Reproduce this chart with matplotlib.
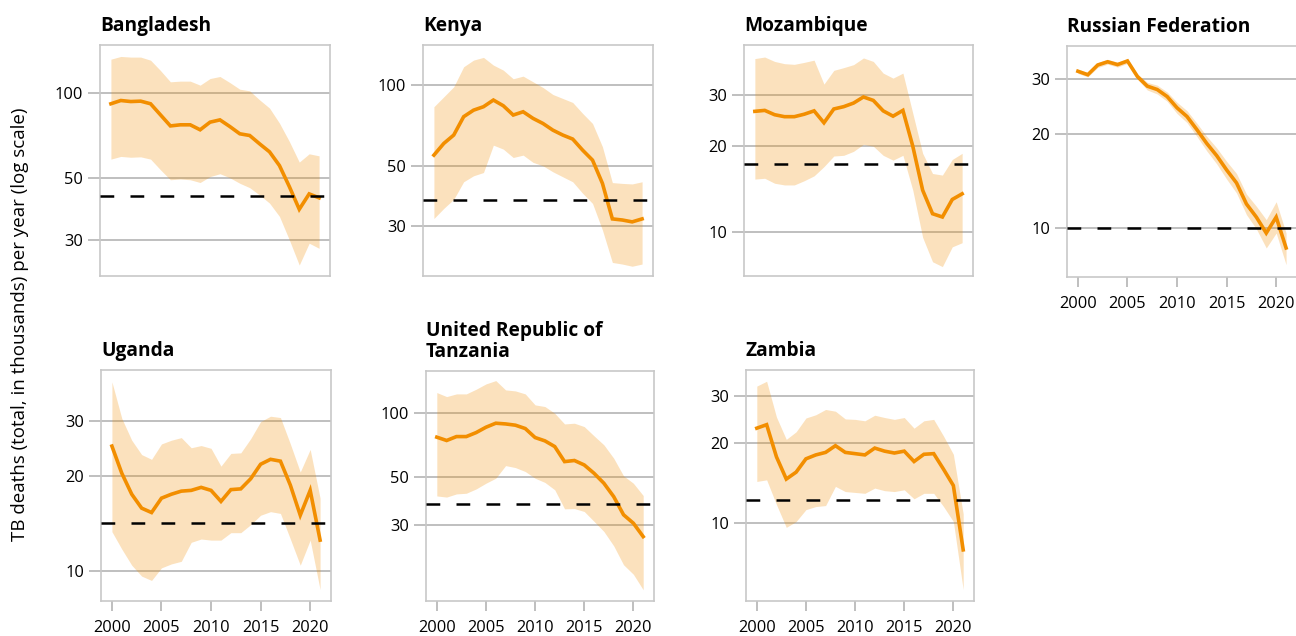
import matplotlib.pyplot as plt
import matplotlib.ticker as mticker
import numpy as np

years = list(range(2000, 2022))

bgd_mid = [91.9, 94.4, 93.6, 93.9, 91.9, 83.9, 76.6, 77.3, 77.3, 74.2, 79.0, 80.5,
           76.2, 71.8, 70.8, 66.1, 61.9, 55.3, 46.5, 38.6, 43.8, 42.4]
bgd_hi = [132.6, 135.6, 134.9, 134.9, 131.5, 120.8, 110.1, 110.7, 110.7, 107.1, 113.1, 115.0,
          109.4, 103.6, 102.2, 94.9, 88.7, 78.4, 67.4, 56.9, 60.9, 59.9]
bgd_lo = [58.3, 59.6, 59.2, 59.4, 58.3, 53.4, 49.2, 49.5, 49.2, 48.1, 50.5, 51.7,
          50.0, 47.8, 46.1, 43.4, 40.6, 36.4, 30.0, 24.4, 29.2, 28.0]

ken_mid = [54.9, 60.7, 65.2, 76.3, 80.7, 83.1, 88.0, 83.8, 77.4, 79.6, 75.2, 72.0,
           68.0, 65.2, 63.0, 57.3, 52.6, 43.1, 31.8, 31.5, 31.0, 31.8]
ken_hi = [83.1, 90.5, 98.6, 117.0, 123.9, 126.8, 118.7, 113.7, 105.6, 108.0, 102.9, 98.0,
          92.3, 89.2, 86.2, 78.5, 72.0, 59.0, 43.4, 43.1, 42.9, 43.7]
ken_lo = [31.9, 34.8, 37.6, 43.7, 46.0, 47.3, 59.8, 57.8, 53.8, 54.9, 51.6, 50.1,
          47.6, 45.6, 43.7, 39.6, 36.3, 28.9, 21.9, 21.6, 21.2, 21.6]

moz_mid = [26.3, 26.5, 25.6, 25.2, 25.2, 25.7, 26.4, 24.0, 26.8, 27.3, 28.1, 29.5,
           28.7, 26.4, 25.3, 26.5, 19.9, 14.0, 11.6, 11.3, 13.0, 13.6]
moz_hi = [40.1, 40.6, 39.2, 38.5, 38.3, 38.9, 39.6, 32.7, 36.5, 37.3, 38.2, 40.3,
          39.2, 35.7, 34.3, 35.7, 25.9, 18.8, 16.0, 15.8, 17.9, 18.8]
moz_lo = [15.3, 15.4, 14.8, 14.6, 14.6, 15.1, 15.7, 16.9, 18.4, 18.5, 19.1, 20.2,
          19.9, 18.5, 17.8, 18.5, 14.0, 9.6, 7.9, 7.6, 8.9, 9.2]

rus_mid = [31.7, 30.9, 33.2, 34.0, 33.3, 34.2, 30.5, 28.4, 27.7, 26.3, 24.2, 22.7,
           20.6, 18.6, 17.0, 15.3, 13.9, 11.9, 10.8, 9.6, 10.8, 8.6]
rus_hi = [32.2, 31.4, 33.8, 34.6, 33.9, 34.8, 31.1, 29.2, 28.6, 27.2, 25.2, 23.7,
          21.6, 19.6, 18.0, 16.3, 14.9, 12.8, 11.7, 10.6, 12.1, 9.6]
rus_lo = [31.2, 30.4, 32.6, 33.4, 32.7, 33.6, 29.9, 27.6, 26.8, 25.4, 23.2, 21.7,
          19.6, 17.6, 16.0, 14.3, 12.9, 11.0, 9.9, 8.6, 9.6, 7.6]

uga_mid = [24.9, 20.4, 17.5, 15.8, 15.3, 17.0, 17.5, 17.9, 18.0, 18.4, 18.0, 16.6,
           18.1, 18.2, 19.6, 21.8, 22.6, 22.3, 18.7, 15.0, 18.0, 12.5]
uga_hi = [39.9, 30.5, 26.0, 23.4, 22.6, 25.3, 26.0, 26.5, 24.6, 25.0, 24.5, 21.5,
          23.6, 23.7, 26.3, 29.8, 31.0, 30.7, 25.3, 20.6, 24.3, 17.0]
uga_lo = [13.3, 11.7, 10.4, 9.6, 9.3, 10.2, 10.5, 10.7, 12.3, 12.6, 12.5, 12.5,
          13.2, 13.2, 14.0, 15.0, 15.4, 15.2, 12.6, 10.4, 12.5, 8.7]

tza_mid = [77.0, 74.3, 77.5, 77.5, 80.9, 85.7, 89.5, 88.8, 87.6, 84.5, 76.7, 74.0,
           69.6, 59.2, 59.9, 57.1, 52.2, 46.9, 40.6, 33.4, 30.5, 26.4]
tza_hi = [124.5, 119.2, 122.7, 122.7, 129.0, 136.6, 141.6, 128.1, 126.7, 122.7, 109.0, 107.1,
          99.6, 88.8, 89.5, 86.3, 78.1, 70.9, 61.4, 50.8, 46.9, 41.1]
tza_lo = [40.9, 40.4, 41.8, 42.1, 44.1, 46.9, 49.5, 56.7, 55.5, 53.2, 49.5, 47.3,
          43.7, 35.6, 35.7, 34.6, 31.1, 27.9, 23.9, 19.5, 17.6, 14.9]

zmb_mid = [22.7, 23.4, 17.7, 14.6, 15.5, 17.4, 18.0, 18.4, 19.5, 18.4, 18.2, 18.0,
           19.1, 18.6, 18.3, 18.6, 17.0, 18.1, 18.2, 15.9, 13.8, 7.9]
zmb_hi = [32.7, 34.1, 25.0, 20.6, 22.0, 24.8, 25.5, 26.7, 26.3, 24.6, 24.5, 24.2,
          25.4, 24.9, 24.5, 24.9, 22.7, 24.2, 24.5, 21.2, 18.1, 10.8]
zmb_lo = [14.3, 14.5, 11.7, 9.6, 10.1, 11.2, 11.5, 11.6, 13.7, 13.1, 13.0, 12.9,
          13.5, 13.2, 13.1, 13.3, 12.3, 12.9, 12.9, 11.5, 10.1, 5.6]

countries = ["Bangladesh", "Kenya", "Mozambique", "Russian Federation",
             "Uganda", "United Republic of\nTanzania", "Zambia"]
mids = [bgd_mid, ken_mid, moz_mid, rus_mid, uga_mid, tza_mid, zmb_mid]
his = [bgd_hi, ken_hi, moz_hi, rus_hi, uga_hi, tza_hi, zmb_hi]
los = [bgd_lo, ken_lo, moz_lo, rus_lo, uga_lo, tza_lo, zmb_lo]
targets = [42.9, 37.3, 17.2, 10.0, 14.2, 37.7, 12.2]
y_limits = [(22.3, 149), (19.5, 141), (7.05, 44.7), (6.94, 38.2),
            (8.0, 43.5), (13.2, 157), (5.07, 37.6)]
y_ticks = [[30, 50, 100], [30, 50, 100], [10, 20, 30], [10, 20, 30],
           [10, 20, 30], [30, 50, 100], [10, 20, 30]]

# panel boxes in pixels: left, top, right, bottom
boxes = [(100, 45, 330, 276), (423, 45, 653, 276), (744, 45, 973, 276),
         (1067, 46, 1297, 277), (101, 370, 331, 601), (426, 371, 654, 601),
         (746, 370, 974, 601)]
show_x = [False, False, False, True, True, True, True]

W, H = 1296, 636
orange = "#f28e00"
grid_c = "#b4b4b4"

plt.rcParams['font.family'] = ['Open Sans', 'DejaVu Sans']
fig = plt.figure(figsize=(W / 100, H / 100), dpi=100)

for i, name in enumerate(countries):
    l, t, r, b = boxes[i]
    ax = fig.add_axes([l / W, 1 - b / H, (r - l) / W, (b - t) / H])
    ax.set_yscale('log')
    ax.set_ylim(*y_limits[i])
    ax.set_xlim(1998.9, 2022.1)

    ax.fill_between(years, los[i], his[i], color=orange, alpha=0.26, linewidth=0, zorder=1)
    ax.plot(years, mids[i], color=orange, linewidth=2.6, zorder=3, solid_joinstyle='miter')
    ax.axhline(targets[i], color='black', linewidth=1.8, dashes=(5.5, 6.5), zorder=4)

    ax.yaxis.set_major_locator(mticker.FixedLocator(y_ticks[i]))
    ax.yaxis.set_minor_locator(mticker.NullLocator())
    ax.yaxis.set_major_formatter(mticker.FixedFormatter([str(v) for v in y_ticks[i]]))
    ax.grid(axis='y', color=grid_c, linewidth=1.2, zorder=0)
    ax.set_axisbelow(True)
    ax.tick_params(axis='y', length=9, width=1.2, color=grid_c, labelsize=11.8, pad=3)

    if show_x[i]:
        ax.set_xticks([2000, 2005, 2010, 2015, 2020])
        ax.tick_params(axis='x', length=7, width=1.2, color=grid_c, labelsize=11.8, pad=7)
    else:
        ax.set_xticks([])

    for s in ax.spines.values():
        s.set_color("#c8c8c8")
        s.set_linewidth(1.2)

    ax.set_title(name, loc='left', fontsize=13.8, fontweight='bold', pad=10,
                 linespacing=1.05)

fig.text(20 / W, 1 - 324 / H, "TB deaths (total, in thousands) per year (log scale)",
         rotation=90, ha='center', va='center', fontsize=13.5)

fig.savefig("out.png", dpi=100)
